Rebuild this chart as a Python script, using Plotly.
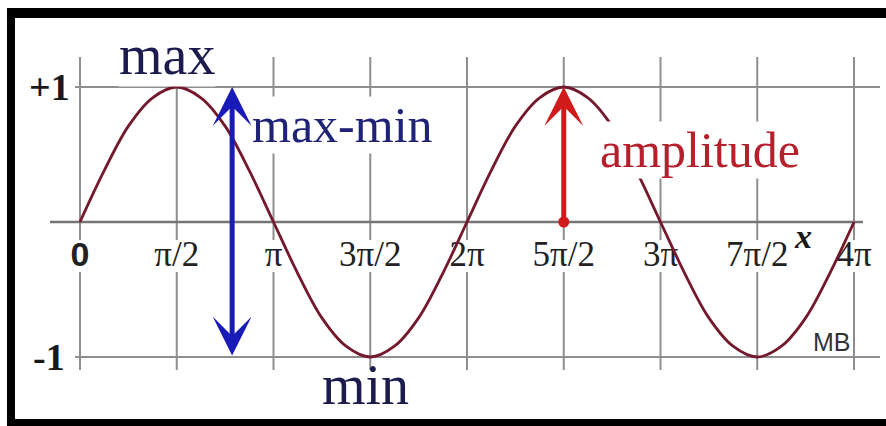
import math
import plotly.graph_objects as go

# ---- data -------------------------------------------------------------
# curve sampled every pi/8 from 0 to 4*pi
curve_step = math.pi / 8
curve_y = [0.00, 0.38, 0.71, 0.92, 1.00, 0.92, 0.71, 0.38,
           0.00, -0.38, -0.71, -0.92, -1.00, -0.92, -0.71, -0.38,
           0.00, 0.38, 0.71, 0.92, 1.00, 0.92, 0.71, 0.38,
           0.00, -0.38, -0.71, -0.92, -1.00, -0.92, -0.71, -0.38,
           0.00]
curve_x = [i * curve_step for i in range(len(curve_y))]

# x ticks in multiples of pi/2
tick_mult = [0, 1, 2, 3, 4, 5, 6, 7, 8]
tick_x = [m * math.pi / 2 for m in tick_mult]
tick_labels = ["<b>0</b>", "π/2", "π", "3π/2", "2π", "5π/2", "3π", "7π/2", "4π"]

y_levels = [1, 0, -1]
y_labels = ["+1", "-1"]
y_label_vals = [1, -1]

amp_x = 5 * math.pi / 2      # amplitude arrow at the second crest
amp_from, amp_to = 0, 1
span_x = 2.47                # max-min arrow position
span_from, span_to = -1, 1

# ---- styling ------------------------------------------------------------
W, H = 886, 426
X0_PX, PX_PER_RAD = 80, 96.75 / (math.pi / 2)
Y0_PX, PX_PER_UNIT = 222, 135
x_range = [-X0_PX / PX_PER_RAD, (W - X0_PX) / PX_PER_RAD]
y_range = [-(H - Y0_PX) / PX_PER_UNIT, Y0_PX / PX_PER_UNIT]


def dx(px):
    return (px - X0_PX) / PX_PER_RAD


def dy(px):
    return (Y0_PX - px) / PX_PER_UNIT


GRID = "#8e8e8e"
CURVE = "#74192b"
NAVY = "#1b1b4d"
BLUE = "#1a1ab8"
RED = "#d11a1a"
SERIF = "Liberation Serif, Times New Roman, serif"
SANS = "Liberation Sans, Arial, sans-serif"

fig = go.Figure()
shapes = []

# vertical grid lines, interrupted where the tick labels sit
label_top, label_bot = dy(240), dy(272)
for tx in tick_x:
    shapes.append(dict(type="line", xref="x", yref="y", x0=tx, x1=tx,
                       y0=dy(57), y1=label_top, layer="below",
                       line=dict(color=GRID, width=2)))
    shapes.append(dict(type="line", xref="x", yref="y", x0=tx, x1=tx,
                       y0=label_bot, y1=dy(370), layer="below",
                       line=dict(color=GRID, width=2)))

# horizontal lines at +1, 0, -1
for lv in y_levels:
    if lv == 0:
        shapes.append(dict(type="line", xref="x", yref="y", x0=dx(50), x1=dx(863),
                           y0=lv, y1=lv, layer="below",
                           line=dict(color="#757575", width=2.5)))
    else:
        shapes.append(dict(type="line", xref="x", yref="y", x0=dx(75), x1=dx(880),
                           y0=lv, y1=lv, layer="below",
                           line=dict(color=GRID, width=2)))

# black frame (left, top, bottom)
shapes.append(dict(type="rect", xref="paper", yref="paper", x0=7 / W, x1=15 / W,
                   y0=0, y1=1 - 8 / H, fillcolor="black", line_width=0, layer="above"))
shapes.append(dict(type="rect", xref="paper", yref="paper", x0=7 / W, x1=1,
                   y0=1 - 18 / H, y1=1 - 8 / H, fillcolor="black", line_width=0, layer="above"))
shapes.append(dict(type="rect", xref="paper", yref="paper", x0=7 / W, x1=1,
                   y0=0, y1=7 / H, fillcolor="black", line_width=0, layer="above"))

# x tick labels (drawn as a trace so the curve passes over them)
fig.add_trace(go.Scatter(
    x=tick_x, y=[dy(257)] * len(tick_x), mode="text", text=tick_labels,
    textposition="middle center", hoverinfo="skip", showlegend=False,
    textfont=dict(
        family=[SANS] + [SERIF] * (len(tick_labels) - 1),
        size=[34] + [35] * (len(tick_labels) - 1),
        color="#222222",
    ),
))

# the sine curve
fig.add_trace(go.Scatter(
    x=curve_x, y=curve_y, mode="lines", line=dict(color=CURVE, width=2.8, shape="spline"),
    hoverinfo="skip", showlegend=False,
))

# base dot of the amplitude arrow
fig.add_trace(go.Scatter(
    x=[amp_x], y=[amp_from], mode="markers",
    marker=dict(color=RED, size=11), hoverinfo="skip", showlegend=False,
))

annotations = []
# y labels
for lab, val in zip(y_labels, y_label_vals):
    annotations.append(dict(x=dx(49), y=val, xref="x", yref="y", text=f"<b>{lab}</b>",
                            showarrow=False, font=dict(family=SERIF, size=38, color="#1a1a1a"),
                            xanchor="center", yanchor="middle"))

# max-min double arrow
annotations.append(dict(x=span_x, y=span_to, ax=span_x, ay=span_from, xref="x", yref="y",
                        axref="x", ayref="y", text="", showarrow=True, arrowside="end+start",
                        arrowhead=3, startarrowhead=3, arrowsize=1.3, startarrowsize=1.3,
                        arrowwidth=5, arrowcolor=BLUE))
# amplitude arrow
annotations.append(dict(x=amp_x, y=amp_to, ax=amp_x, ay=amp_from, xref="x", yref="y",
                        axref="x", ayref="y", text="", showarrow=True,
                        arrowhead=3, arrowsize=1.3, arrowwidth=5, arrowcolor=RED))

# word labels (white backing hides the lines behind them)
words = [
    dict(x=dx(167), y=dy(55), text="max", font=dict(family=SERIF, size=56, color=NAVY),
         bgcolor="white"),
    dict(x=dx(365), y=dy(385), text="min", font=dict(family=SERIF, size=56, color=NAVY),
         bgcolor="rgba(0,0,0,0)"),
    dict(x=dx(342), y=dy(125), text="max-min", font=dict(family=SERIF, size=50, color="#1f2378"),
         bgcolor="white"),
    dict(x=dx(700), y=dy(150), text="amplitude", font=dict(family=SERIF, size=50, color="#b5202c"),
         bgcolor="white"),
    dict(x=dx(803), y=dy(236), text="<b><i>x</i></b>", font=dict(family=SERIF, size=34, color="#1a1a1a"),
         bgcolor="rgba(0,0,0,0)"),
    dict(x=dx(832), y=dy(342), text="MB", font=dict(family=SANS, size=25, color="#333333"),
         bgcolor="rgba(0,0,0,0)"),
]
for a in words:
    a.update(xref="x", yref="y", showarrow=False, xanchor="center", yanchor="middle",
             borderpad=0)
annotations += words

fig.update_layout(
    width=W, height=H, margin=dict(l=0, r=0, t=0, b=0),
    paper_bgcolor="white", plot_bgcolor="white",
    xaxis=dict(range=x_range, visible=False, fixedrange=True),
    yaxis=dict(range=y_range, visible=False, fixedrange=True),
    shapes=shapes, annotations=annotations, showlegend=False,
)

fig.write_html("out.html")
